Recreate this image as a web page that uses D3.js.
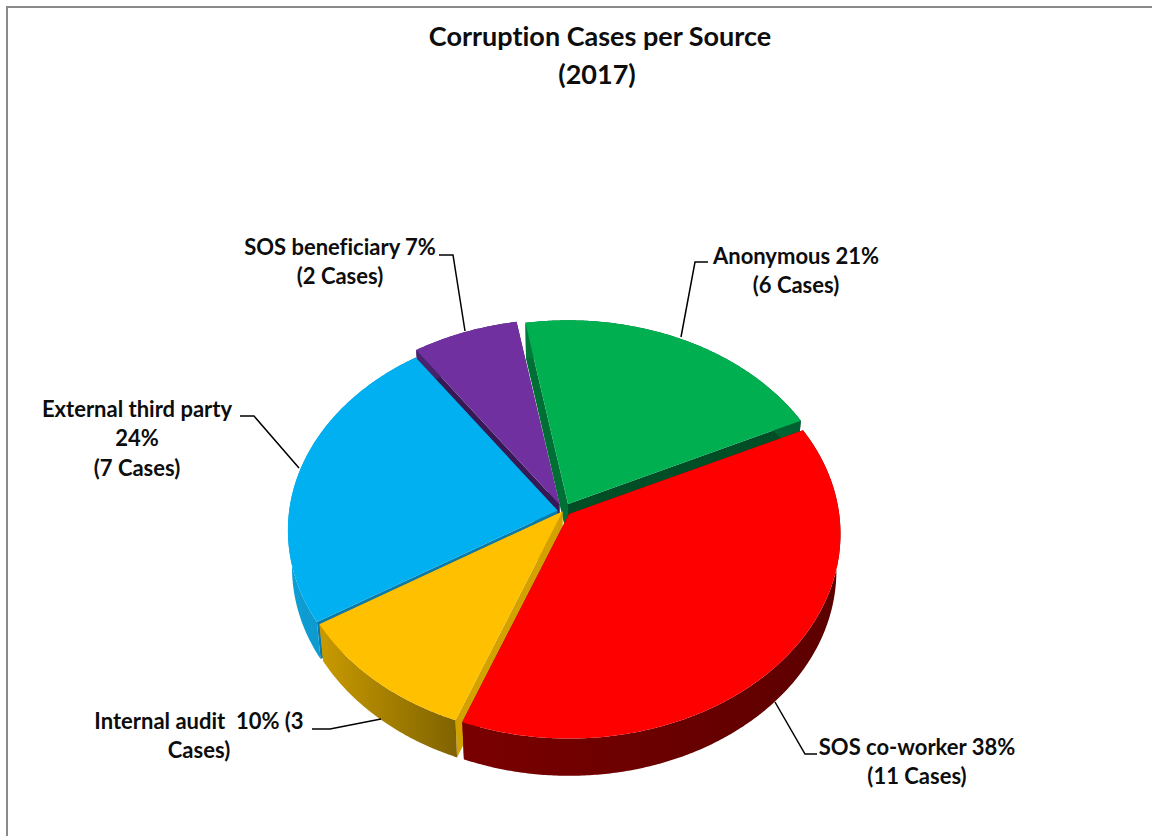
<!DOCTYPE html>
<html><head><meta charset="utf-8">
<script src="https://cdn.jsdelivr.net/npm/d3@7/dist/d3.min.js"></script>
<style>html,body{margin:0;padding:0;background:#fff}svg{display:block}text{font-family:Lato,Carlito,sans-serif;font-weight:700;fill:#0d0d0d;font-variant-ligatures:none;white-space:pre}</style>
</head><body><svg id="c" width="1152" height="836"></svg>
<script>
const categories = ["Anonymous","SOS co-worker","Internal audit","External third party","SOS beneficiary"];
const caseCounts = [6,11,3,7,2];
const titleLines = ["Corruption Cases per Source","(2017)"];
const titleX = [600,597];
const labelLines = [
  ["Anonymous 21%","(6 Cases)"],
  ["SOS co-worker 38%","(11 Cases)"],
  ["Internal audit  10% (3","Cases)"],
  ["External third party","24%","(7 Cases)"],
  ["SOS beneficiary 7%","(2 Cases)"]
];
const topColors = ["#00b050","#ff0000","#ffc000","#00b0f0","#7030a0"];
const startWall = ["#006f35","#800000","#d4a200","#0a7aa8","#371a55"];
const endWall   = ["#004d26","#800000","#d4a200","#0a7aa8","#371a55"];
const rimGrad = [["#007a3a","#006030"],["#7a0000","#5c0000"],["#c99a00","#7f6300"],["#0e9fd6","#0a8ab8"],["#4a2470","#371a55"]];
const apexes = [[568,504],[569,514],[562.5,511.5],[557.5,510.5],[559.5,504.5]];
const radiusScale = [0.992,0.997,1,0.99,1];
const paintOrder = [0,4,3,2,1];
const labelAnchors = [[796,256],[917,747],[199,721],[137,409],[340,247]];
const leaders = [
  [[681,337],[695,262],[708,262]],
  [[775,702],[805,754],[817,754]],
  [[381,719],[330,729],[312,729]],
  [[299,468],[254,416],[240,416]],
  [[465,331],[453,255],[439,255]]
];

const R=271,K=0.75,P=0.0975,SHRINK=0.015,DEPTH=36.7,STEP=Math.PI/180;
const svg=d3.select("#c");
const defs=svg.append("defs");

svg.append("path").attr("d","M7,836V7H1152").attr("fill","none").attr("stroke","#8a8a8a").attr("stroke-width",2);

const pie=d3.pie().sort(null).startAngle(-10*STEP).endAngle(350*STEP);
const arcs=pie(caseCounts);

function proj(i,a,z,rim){
  const X=rim?Math.sin(a):0,Y=rim?-Math.cos(a):0,r=R*radiusScale[i];
  const s=1/(1-P*Y)*(1-z*SHRINK);
  return [apexes[i][0]+r*X*s, apexes[i][1]+r*K*Y*s+z*DEPTH/(1-P*Y)];
}
const line=d3.line();

paintOrder.forEach(i=>{
  const d=arcs[i];
  const g=svg.append("g").attr("class","slice").datum(d);
  const as=d3.range(d.startAngle,d.endAngle,STEP/2).concat([d.endAngle]);
  g.append("path").attr("fill",endWall[i]).attr("d",line([proj(i,d.endAngle,0,false),proj(i,d.endAngle,0,true),proj(i,d.endAngle,1,true),proj(i,d.endAngle,1,false)])+"Z");
  g.append("path").attr("fill",startWall[i]).attr("d",line([proj(i,d.startAngle,0,false),proj(i,d.startAngle,0,true),proj(i,d.startAngle,1,true),proj(i,d.startAngle,1,false)])+"Z");
  const gid="rim"+i;
  const lg=defs.append("linearGradient").attr("id",gid);
  lg.append("stop").attr("offset","0%").attr("stop-color",rimGrad[i][0]);
  lg.append("stop").attr("offset","100%").attr("stop-color",rimGrad[i][1]);
  const rimPts=as.map(a=>proj(i,a,0,true)).concat(as.slice().reverse().map(a=>proj(i,a,1,true)));
  g.append("path").attr("fill",`url(#${gid})`).attr("d",line(rimPts)+"Z");
  const topPts=[proj(i,0,0,false)].concat(as.map(a=>proj(i,a,0,true)));
  g.append("path").attr("fill",topColors[i]).attr("d",line(topPts)+"Z");
});

const lg=svg.append("g");
leaders.forEach(pts=>lg.append("path").attr("d",line(pts)).attr("fill","none").attr("stroke","#000").attr("stroke-width",1.5));

const LH=29.6;
labelLines.forEach((ls,i)=>{
  const t=svg.append("text").attr("text-anchor","middle").attr("font-size",22);
  ls.forEach((s,j)=>t.append("tspan").attr("x",labelAnchors[i][0]).attr("y",labelAnchors[i][1]+7.5+j*LH).text(s));
});
titleLines.forEach((s,j)=>svg.append("text").attr("text-anchor","middle").attr("font-size",27).attr("x",titleX[j]).attr("y",46+j*38).text(s));
</script></body></html>
